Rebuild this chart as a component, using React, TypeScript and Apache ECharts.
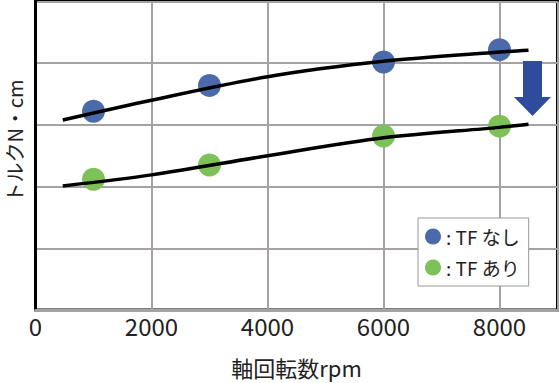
import React, { useEffect, useRef } from "react";
import * as echarts from "echarts";

const xTicks = [0, 2000, 4000, 6000, 8000];
const rpm = [1000, 3000, 6000, 8000];
const torqueNoTF = [3.22, 3.64, 4.02, 4.22];
const torqueTF = [2.12, 2.35, 2.82, 2.98];
const trendRpm = [470, 2000, 4000, 6000, 8000, 8500];
const trendNoTF = [3.08, 3.40, 3.78, 4.03, 4.18, 4.21];
const trendTF = [2.01, 2.19, 2.50, 2.79, 2.96, 3.01];
const seriesNames = ["TF なし", "TF あり"];

const FONT = "'Noto Sans CJK JP', 'Noto Sans', sans-serif";

export default function App() {
  const ref = useRef<HTMLDivElement>(null);
  useEffect(() => {
    if (!ref.current) return;
    const chart = echarts.init(ref.current, undefined, { renderer: "svg" });
    const pair = (xs: number[], ys: number[]) => xs.map((x, i) => [x, ys[i]]);
    chart.setOption({
      animation: false,
      backgroundColor: "#ffffff",
      textStyle: { fontFamily: FONT },
      grid: {
        left: 35.5,
        right: 2.5,
        top: 1.5,
        bottom: 69,
        show: true,
        borderColor: "#000",
        borderWidth: 3,
        backgroundColor: "transparent",
      },
      xAxis: {
        type: "value",
        min: 0,
        max: 9000,
        interval: 2000,
        axisLine: { show: true, lineStyle: { color: "#a7a2a2", width: 3 } },
        axisTick: { show: false },
        splitLine: { show: true, lineStyle: { color: "#a7a2a2", width: 2 } },
        axisLabel: {
          showMaxLabel: false,
          color: "#222",
          fontSize: 24,
          fontFamily: FONT,
          margin: 4,
          formatter: (v: number) => (xTicks.includes(v) ? String(v) : ""),
        },
        name: "軸回転数rpm",
        nameLocation: "middle",
        nameGap: 46,
        nameTextStyle: { color: "#222", fontSize: 22, fontFamily: FONT },
      },
      yAxis: {
        type: "value",
        min: 0,
        max: 5,
        interval: 1,
        axisLine: { show: true, lineStyle: { color: "#000", width: 3 } },
        axisTick: { show: false },
        axisLabel: { show: false },
        splitLine: { show: true, lineStyle: { color: "#a7a2a2", width: 2 } },
      },
      legend: {
        show: true,
        orient: "vertical",
        left: 418,
        top: 218,
        padding: [9, 9, 9, 7],
        itemGap: 12,
        itemWidth: 16,
        itemHeight: 16,
        icon: "circle",
        borderColor: "#999",
        borderWidth: 1,
        backgroundColor: "#fff",
        data: seriesNames,
        formatter: ": {name}",
        textStyle: { fontSize: 19, color: "#222", fontFamily: FONT },
      },
      graphic: [
        {
          type: "text",
          x: 14,
          y: 141,
          rotation: Math.PI / 2,
          style: {
            text: "トルクN・cm",
            fontSize: 20,
            fontFamily: FONT,
            fill: "#222",
            textAlign: "center",
            textVerticalAlign: "middle",
          },
        },
        {
          type: "polygon",
          z: 10,
          shape: {
            points: [
              [523, 61],
              [542, 61],
              [542, 97],
              [551, 97],
              [532.5, 116],
              [514, 97],
              [523, 97],
            ],
          },
          style: { fill: "#2d4d9c" },
        },
      ],
      series: [
        {
          name: seriesNames[0],
          type: "scatter",
          symbolSize: 23,
          itemStyle: { color: "#4b6aa9", opacity: 1 },
          data: pair(rpm, torqueNoTF),
          z: 2,
        },
        {
          name: seriesNames[1],
          type: "scatter",
          symbolSize: 23,
          itemStyle: { color: "#7dc158", opacity: 1 },
          data: pair(rpm, torqueTF),
          z: 2,
        },
        {
          name: "trend1",
          type: "line",
          smooth: 0.3,
          symbol: "none",
          lineStyle: { color: "#000", width: 3.5 },
          data: pair(trendRpm, trendNoTF),
          z: 4,
        },
        {
          name: "trend2",
          type: "line",
          smooth: 0.3,
          symbol: "none",
          lineStyle: { color: "#000", width: 3.5 },
          data: pair(trendRpm, trendTF),
          z: 4,
        },
      ],
    });
    return () => chart.dispose();
  }, []);
  return (
    <div
      ref={ref}
      style={{ width: 560, height: 383, position: "absolute", left: 0, top: 0 }}
    />
  );
}
